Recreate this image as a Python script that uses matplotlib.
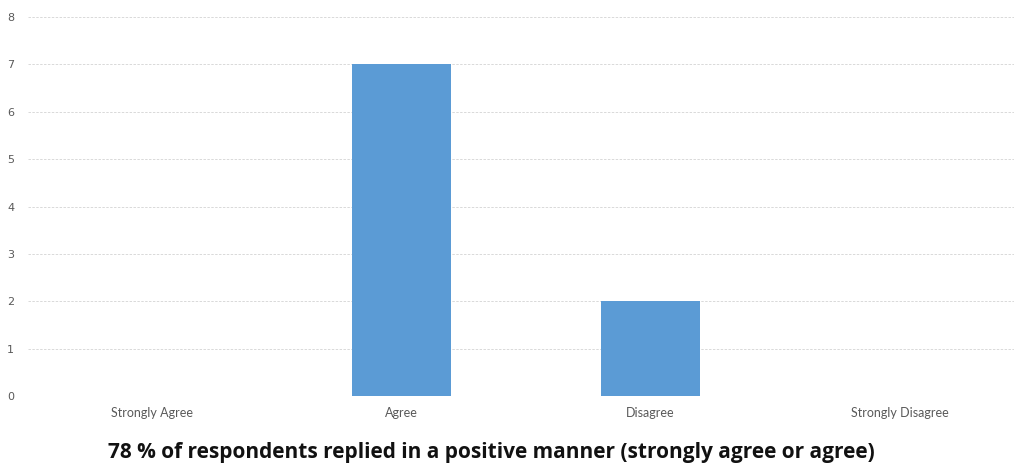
import matplotlib
matplotlib.use('Agg')
import matplotlib.pyplot as plt

categories = ['Strongly Agree', 'Agree', 'Disagree', 'Strongly Disagree']
counts = [0, 7, 2, 0]
caption = '78 % of respondents replied in a positive manner (strongly agree or agree)'

fig = plt.figure(figsize=(10.14, 4.67), dpi=100)
fig.patch.set_facecolor('white')
ax = fig.add_axes([0.0276, 0.152, 0.9724, 0.8116])

x = list(range(len(categories)))
ax.bar(x, counts, width=0.4, color='#5B9BD5', edgecolor='none', zorder=3)

ax.set_xlim(-0.5, 3.46)
ax.set_ylim(0, 8)
ax.set_yticks(range(0, 9))
ax.set_xticks(x)
ax.set_xticklabels(categories, fontsize=9, color='#595959', family='Lato')
ax.tick_params(axis='y', labelsize=8, labelcolor='#595959', length=0, pad=10)
ax.tick_params(axis='x', length=0, pad=8)

ax.yaxis.grid(True, color='#d9d9d9', linestyle=(0, (2.5, 1.5)), linewidth=0.7, zorder=0)
for spine in ax.spines.values():
    spine.set_visible(False)

# caption under the plot
fig.text(0.485, 0.008, caption, ha='center', va='bottom', fontsize=15,
         fontweight='bold', family='Open Sans', color='#111111')

fig.savefig('out.png', dpi=100)
